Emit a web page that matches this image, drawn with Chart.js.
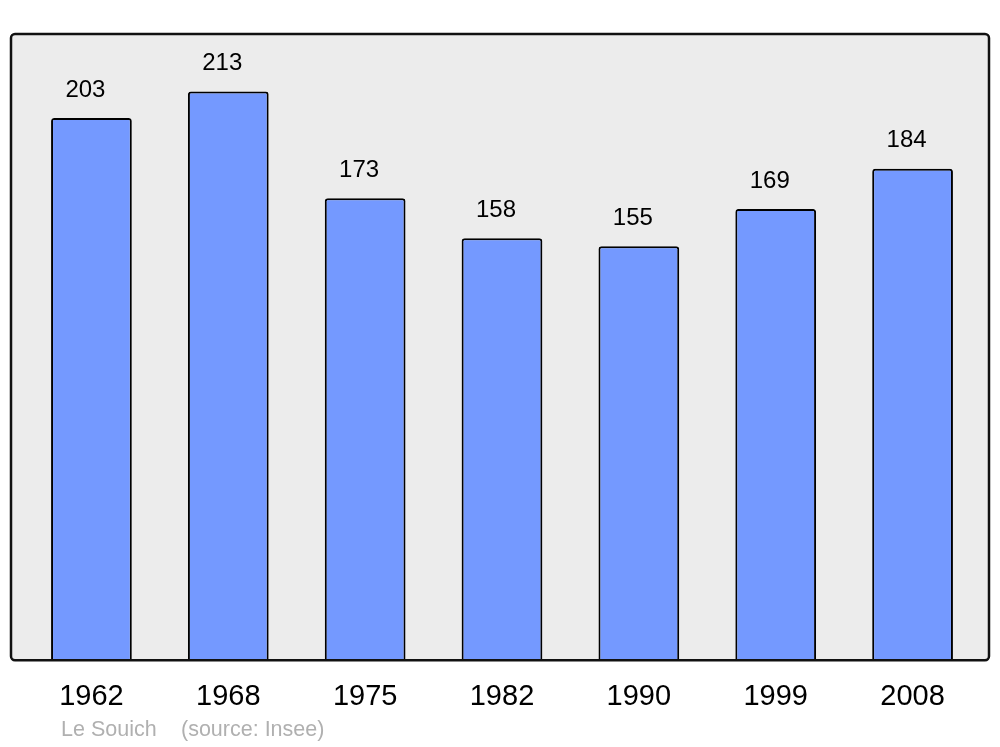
<!DOCTYPE html>
<html>
<head>
<meta charset="utf-8">
<script src="https://cdn.jsdelivr.net/npm/chart.js@4"></script>
<style>
  html, body { margin: 0; padding: 0; background: #fff; }
  #wrap { width: 1000px; height: 747px; }
</style>
</head>
<body>
<div id="wrap"><canvas id="jschart" width="1000" height="747"></canvas></div>
<script>
const years = ['1962', '1968', '1975', '1982', '1990', '1999', '2008'];
const population = [203, 213, 173, 158, 155, 169, 184];
const townName = 'Le Souich';
const sourceNote = '(source: Insee)';

const FONT = '"Liberation Sans", Arial, sans-serif';

// grey panel + black frame behind/around the bars
const framePlugin = {
  id: 'frame',
  box(chart) {
    const a = chart.chartArea;
    return { x: a.left - 12, y: a.top, w: (a.right + 8) - (a.left - 12), h: a.bottom - a.top };
  },
  beforeDatasetsDraw(chart) {
    const ctx = chart.ctx;
    const b = this.box(chart);
    ctx.save();
    ctx.beginPath();
    ctx.roundRect(b.x, b.y, b.w, b.h, 4);
    ctx.fillStyle = '#ececec';
    ctx.fill();
    ctx.restore();
  },
  afterDatasetsDraw(chart) {
    const ctx = chart.ctx;
    const b = this.box(chart);
    ctx.save();
    ctx.beginPath();
    ctx.roundRect(b.x, b.y, b.w, b.h, 4);
    ctx.lineWidth = 2.5;
    ctx.strokeStyle = '#111';
    ctx.stroke();

    // values above bars (sit a little left of the bar centre)
    const meta = chart.getDatasetMeta(0);
    ctx.fillStyle = '#000';
    ctx.font = '24px ' + FONT;
    ctx.textAlign = 'center';
    ctx.textBaseline = 'middle';
    meta.data.forEach((bar, i) => {
      ctx.fillText(String(population[i]), bar.x - 6, bar.y - 28);
    });

    // footnote
    ctx.fillStyle = '#b0b0b0';
    ctx.font = '21.5px ' + FONT;
    ctx.textAlign = 'left';
    ctx.fillText(townName, 61, 730);
    ctx.fillText(sourceNote, 181, 730);
    ctx.restore();
  }
};

const ctx = document.getElementById('jschart');
const genChart = new Chart(ctx, {
  type: 'bar',
  data: {
    labels: years,
    datasets: [{
      data: population,
      backgroundColor: '#7499ff',
      borderColor: '#000',
      borderWidth: 2,
      borderRadius: 3,
      barPercentage: 0.59,
      categoryPercentage: 1.0,
    }],
  },
  options: {
    responsive: false,
    animation: false,
    devicePixelRatio: 1,
    layout: {
      padding: { top: 34, left: 23, right: 19, bottom: 14 },
    },
    plugins: {
      legend: { display: false },
      tooltip: { enabled: false },
      title: { display: false },
    },
    scales: {
      y: {
        display: false,
        min: 0,
        max: 234.5,
      },
      x: {
        grid: { display: false, drawTicks: false },
        border: { display: false },
        ticks: {
          color: '#000',
          padding: 19,
          font: { size: 29, family: FONT },
        },
      },
    },
  },
  plugins: [framePlugin],
});
</script>
</body>
</html>
